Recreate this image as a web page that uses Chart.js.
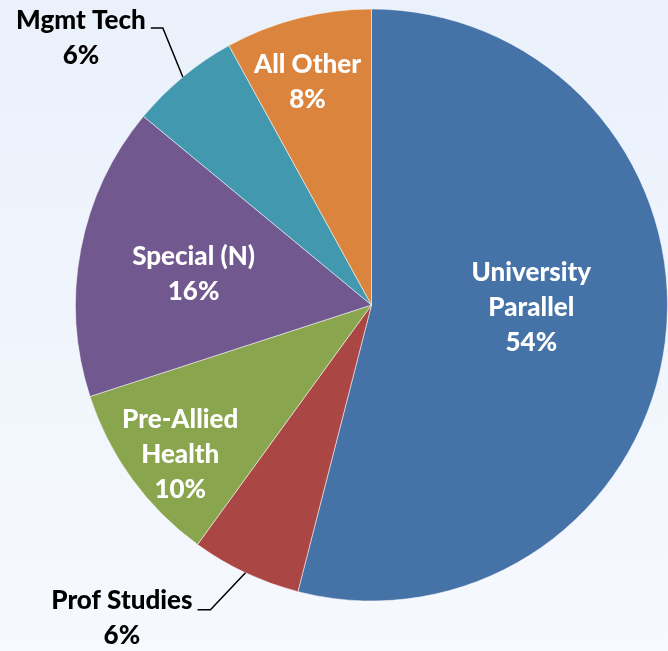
<!DOCTYPE html>
<html>
<head>
<meta charset="utf-8">
<script src="https://cdn.jsdelivr.net/npm/chart.js@4"></script>
<style>
  html, body { margin: 0; padding: 0; }
  body {
    width: 668px; height: 651px; overflow: hidden;
    background: linear-gradient(to bottom, #eaf1fb 0%, #f6f9fe 100%);
  }
  canvas { display: block; }
</style>
</head>
<body>
<canvas id="myChart" width="668" height="651"></canvas>
<script>
let labels = ['University Parallel', 'Prof Studies', 'Pre-Allied Health', 'Special (N)', 'Mgmt Tech', 'All Other'];
let labelLines = [['University', 'Parallel'], ['Prof Studies'], ['Pre-Allied', 'Health'], ['Special (N)'], ['Mgmt Tech'], ['All Other']];
let shares = [54, 6, 10, 16, 6, 8];
let colorHex = ['#4572a7', '#aa4643', '#89a54e', '#71588f', '#4198af', '#db843d'];

// draws the slice labels; the two small slices get a leader line
const sliceLabels = {
  id: 'sliceLabels',
  afterDatasetsDraw(chart, args, opts) {
    const ctx = chart.ctx;
    const meta = chart.getDatasetMeta(0);
    ctx.save();
    ctx.font = opts.font;
    ctx.textBaseline = 'middle';
    ctx.textAlign = 'center';
    meta.data.forEach((arc, i) => {
      const p = arc.getProps(['x', 'y', 'startAngle', 'endAngle', 'outerRadius']);
      const lines = labelLines[i].concat([shares[i] + '%']);
      const out = opts.outside[i];
      if (out) {
        const mid = (p.startAngle + p.endAngle) / 2;
        const ex = p.x + Math.cos(mid) * p.outerRadius;
        const ey = p.y + Math.sin(mid) * p.outerRadius;
        const bx = ex + out.dx, by = ey + out.dy;
        const endX = bx - out.run;
        ctx.strokeStyle = '#000';
        ctx.lineWidth = 1.5;
        ctx.beginPath();
        ctx.moveTo(ex, ey);
        ctx.lineTo(bx, by);
        ctx.lineTo(endX, by);
        ctx.stroke();
        const w = ctx.measureText(lines[0]).width;
        const cx = endX - 5 - w / 2;
        ctx.fillStyle = '#000';
        lines.forEach((t, k) => ctx.fillText(t, cx, by + out.ty + k * opts.lineHeight));
      } else {
        const mid = (p.startAngle + p.endAngle) / 2 + (opts.shift[i] || 0) * Math.PI / 180;
        const r = p.outerRadius * opts.dist[i];
        const cx = p.x + Math.cos(mid) * r;
        const cy = p.y + Math.sin(mid) * r;
        const top = cy - (lines.length - 1) * opts.lineHeight / 2;
        ctx.fillStyle = '#fff';
        lines.forEach((t, k) => ctx.fillText(t, cx, top + k * opts.lineHeight));
      }
    });
    ctx.restore();
  }
};

let ctx = document.getElementById('myChart').getContext('2d');
let myChart = new Chart(ctx, {
  type: 'pie',
  data: {
    labels: labels,
    datasets: [{
      data: shares,
      backgroundColor: colorHex,
      borderColor: 'rgba(255,255,255,0.5)',
      borderWidth: 1
    }]
  },
  options: {
    responsive: false,
    animation: false,
    layout: { padding: { left: 75, top: 8, right: 0, bottom: 49 } },
    plugins: {
      legend: { display: false },
      tooltip: { enabled: false },
      sliceLabels: {
        font: '900 26px Lato',
        lineHeight: 35,
        dist: [0.54, 0, 0.82, 0.61, 0, 0.785],
        shift: [-6.4, 0, -2, -1, 0, -1.6],
        outside: [null, { dx: -35, dy: 37, run: 13, ty: -9 }, null, null, { dx: -20, dy: -49, run: 12, ty: -7 }, null]
      }
    }
  },
  plugins: [sliceLabels]
});
</script>
</body>
</html>
